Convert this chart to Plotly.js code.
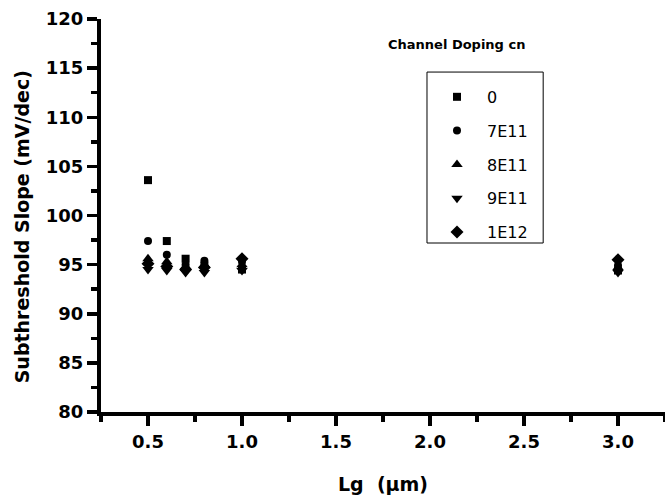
<!DOCTYPE html>
<html>
<head>
<meta charset="utf-8">
<script src="https://cdn.plot.ly/plotly-3.0.1.min.js"></script>
<style>html,body{margin:0;padding:0;background:#fff;}#chart{width:665px;height:500px;}</style>
</head>
<body>
<div id="chart"></div>
<script>
const lg = [0.5, 0.6, 0.7, 0.8, 1.0, 3.0];
const seriesNames = ["0", "7E11", "8E11", "9E11", "1E12"];
const s0    = [103.6, 97.4, 95.6, 94.9, 94.5, 94.4];
const s7E11 = [97.4, 96.0, 95.0, 95.4, 95.3, 94.9];
const s8E11 = [95.6, 95.3, 94.8, 95.0, 95.0, 94.7];
const s9E11 = [94.5, 94.4, 94.2, 94.2, 94.4, 94.2];
const s1E12 = [95.1, 94.8, 94.5, 94.7, 95.6, 95.5];
const seriesValues = [s0, s7E11, s8E11, s9E11, s1E12];
const xTickVals = [0.5, 1.0, 1.5, 2.0, 2.5, 3.0];
const xTickLabels = ["0.5", "1.0", "1.5", "2.0", "2.5", "3.0"];
const yTickVals = [80, 85, 90, 95, 100, 105, 110, 115, 120];
const yTickLabels = ["80", "85", "90", "95", "100", "105", "110", "115", "120"];

const symbols = ["square", "circle", "triangle-up", "triangle-down", "diamond"];
const sizes = [8, 8, 10, 10, 10];
const font = "DejaVu Sans, sans-serif";
const bold = s => "<b>" + s + "</b>";

const traces = seriesNames.map((n, i) => ({
  x: lg, y: seriesValues[i], name: n, type: "scatter", mode: "markers",
  legendgroup: "g" + i,
  marker: {symbol: symbols[i], size: sizes[i], color: "#000"}
}));

const layout = {
  width: 665, height: 500,
  margin: {l: 101, r: 0, t: 19, b: 88},
  paper_bgcolor: "#fff", plot_bgcolor: "#fff",
  showlegend: true,
  legend: {
    x: 0.578, y: 0.845, xanchor: "left", yanchor: "top",
    borderwidth: 0, bgcolor: "rgba(0,0,0,0)",
    font: {family: font, size: 16, color: "#000"},
    tracegroupgap: 10, itemwidth: 50
  },
  xaxis: {
    range: [0.25, 3.25], tickmode: "array", tickvals: xTickVals, ticktext: xTickLabels.map(bold),
    showline: true, linewidth: 4, linecolor: "#000", mirror: false,
    ticks: "outside", ticklen: 10, tickwidth: 3.5, tickcolor: "#000",
    minor: {dtick: 0.25, tick0: 0.25, ticks: "outside", ticklen: 6, tickwidth: 3.5, tickcolor: "#000"},
    showgrid: false, zeroline: false,
    tickfont: {family: font, size: 18, color: "#000"},
    title: {text: bold("Lg\u00a0 (μm)"), font: {family: font, size: 19, color: "#000"}, standoff: 28}
  },
  yaxis: {
    range: [80, 120], tickmode: "array", tickvals: yTickVals, ticktext: yTickLabels.map(bold),
    showline: true, linewidth: 4, linecolor: "#000",
    ticks: "outside", ticklen: 10, tickwidth: 3.5, tickcolor: "#000",
    minor: {dtick: 2.5, tick0: 80, ticks: "outside", ticklen: 6, tickwidth: 3.5, tickcolor: "#000"},
    showgrid: false, zeroline: false,
    tickfont: {family: font, size: 18, color: "#000"}
  },
  shapes: [{
    type: "rect", xref: "paper", yref: "paper",
    x0: 0.578, x1: 0.784, y0: 0.430, y1: 0.865,
    line: {color: "#000", width: 1}
  }],
  annotations: [{
    text: bold("Channel Doping cn"), xref: "paper", yref: "paper",
    x: 0.63, y: 0.936, xanchor: "center", yanchor: "middle", showarrow: false,
    font: {family: font, size: 13, color: "#000"}
  }, {
    text: bold("Subthreshold Slope (mV/dec)"), xref: "paper", yref: "paper",
    x: -0.14, y: 0.47, xanchor: "center", yanchor: "middle", textangle: -90, showarrow: false,
    font: {family: font, size: 19, color: "#000"}
  }]
};
Plotly.newPlot("chart", traces, layout, {displayModeBar: false, staticPlot: true});
</script>
</body>
</html>
